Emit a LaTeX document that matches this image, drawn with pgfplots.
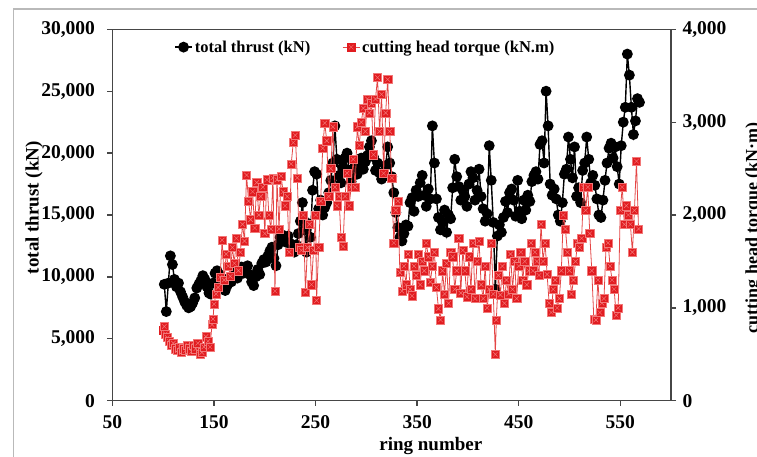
\documentclass[border=0pt]{standalone}
\usepackage{fontspec}
\setmainfont{Liberation Serif}
\usepackage{pgfplots}
\pgfplotsset{compat=1.18}
\definecolor{tq}{RGB}{225,28,32}
\definecolor{tqline}{RGB}{228,70,70}
\definecolor{tqx}{RGB}{242,120,120}
\definecolor{axgray}{RGB}{70,70,70}
\pgfdeclareplotmark{sqx}{%
  \pgfpathrectangle{\pgfpoint{-\pgfplotmarksize}{-\pgfplotmarksize}}{\pgfpoint{2\pgfplotmarksize}{2\pgfplotmarksize}}%
  \pgfusepathqfillstroke
  \pgfsetstrokecolor{tqx}\pgfsetlinewidth{0.45pt}%
  \pgfpathmoveto{\pgfpoint{-0.55\pgfplotmarksize}{-0.55\pgfplotmarksize}}%
  \pgfpathlineto{\pgfpoint{0.55\pgfplotmarksize}{0.55\pgfplotmarksize}}%
  \pgfpathmoveto{\pgfpoint{-0.55\pgfplotmarksize}{0.55\pgfplotmarksize}}%
  \pgfpathlineto{\pgfpoint{0.55\pgfplotmarksize}{-0.55\pgfplotmarksize}}%
  \pgfusepathqstroke
}
\pgfplotsset{
  mybase/.style={
    width=558.5pt, height=371.4pt, scale only axis,
    xmin=50, xmax=600, xtick={50,150,...,550},
    axis line style={axgray, line width=1.3pt},
    every tick/.style={axgray, line width=1.3pt},
    major tick length=5pt, tick align=outside,
    /pgf/number format/assume math mode=true,
    /pgf/number format/1000 sep={,},
    tick label style={font=\fontsize{19.5}{22}\selectfont\bfseries},
    label style={font=\fontsize{19}{22}\selectfont\bfseries},
    scaled y ticks=false,
  }
}
\begin{document}
\begin{tikzpicture}
\path[use as bounding box] (-112.5pt,-55.3pt) rectangle (644.5pt,400.7pt);
\draw[gray!55, line width=1.5pt] (-99pt,-60pt) -- (-99pt,391.7pt) -- (650pt,391.7pt);
\begin{axis}[mybase,
  ymin=0, ymax=30000, ytick={0,5000,...,30000},
  xtick pos=lower, ytick pos=left,
  xlabel={ring number}, ylabel={total thrust (kN)},
  xlabel style={at={(axis description cs:0.57,-0.09)}, anchor=north},
  ylabel style={at={(axis description cs:-0.162,0.52)}, anchor=north},
  yticklabel style={xshift=-9pt},
  xticklabel style={yshift=-6pt},
]
\addplot[black, line width=1.4pt, mark=*, mark size=4.7pt] coordinates {
(101,9400)(103,7200)(105,9500)(107,11700)(109,11000)(111,9800)(113,9200)(115,9500)(117,8800)(119,8400)
(121,8000)(123,7700)(125,7500)(127,7600)(129,7900)(131,8300)(133,9100)(135,9400)(137,9700)(139,10100)
(141,9800)(143,9200)(145,8700)(147,8600)(149,9500)(151,10300)(153,10500)(155,10200)(157,9600)(159,9300)
(161,8900)(163,9300)(165,9900)(167,9600)(169,10100)(171,10400)(173,9900)(175,10500)(177,10800)(179,10300)
(181,10600)(183,10900)(185,10200)(187,9600)(189,9300)(191,10000)(193,10600)(195,10200)(197,11100)(199,11400)
(201,11200)(203,11700)(205,12100)(207,12400)(209,11500)(211,10900)(213,12600)(215,13200)(217,13400)(219,13100)
(221,12800)(223,13300)(225,12700)(227,12500)(229,12000)(231,12600)(233,13500)(235,14500)(237,16000)(239,13800)
(241,12000)(243,14300)(245,13200)(247,17000)(249,18500)(251,18300)(253,15500)(255,16200)(257,15000)(259,15600)
(261,16000)(263,16800)(265,17800)(267,19200)(269,22200)(271,19500)(273,18200)(275,17600)(277,18900)(279,19600)
(281,20000)(283,18600)(285,17700)(287,18200)(289,19000)(291,18300)(293,18800)(295,19600)(297,18700)(299,19300)
(301,19800)(303,20500)(305,21000)(307,19700)(309,18600)(311,19200)(313,18400)(315,17900)(317,18100)(319,19000)
(321,20500)(323,19200)(325,18100)(327,16800)(329,15200)(331,14000)(333,13200)(335,12900)(337,13500)(339,14200)
(341,14100)(343,16000)(345,16400)(347,15300)(349,17000)(351,16500)(353,17600)(355,18200)(357,16600)(359,15700)
(361,17100)(363,16300)(365,22200)(367,19200)(369,16300)(371,14800)(373,13800)(375,14400)(377,15400)(379,13600)
(381,15000)(383,14700)(385,17200)(387,19500)(389,18100)(391,17300)(393,16200)(395,17000)(397,16500)(399,15700)
(401,17500)(403,18500)(405,18000)(407,16200)(409,17000)(411,18700)(413,16500)(415,15500)(417,14500)(419,15100)
(421,20600)(423,17800)(425,14400)(427,9000)(429,13300)(431,14200)(433,13600)(435,14800)(437,16100)(439,15200)
(441,16800)(443,17100)(445,16200)(447,14900)(449,17800)(451,15300)(453,14700)(455,16200)(457,15400)(459,16600)
(461,16100)(463,17700)(465,18200)(467,18500)(469,17900)(471,20700)(473,21000)(475,19200)(477,25000)(479,22200)
(481,17500)(483,16600)(485,17100)(487,16300)(489,15000)(491,14500)(493,16000)(495,18300)(497,18700)(499,21300)
(501,19500)(503,18000)(505,20500)(507,16500)(509,17200)(511,16000)(513,18600)(515,19200)(517,21300)(519,19500)
(521,17600)(523,18200)(525,17400)(527,16300)(529,15000)(531,14800)(533,16200)(535,17800)(537,19200)(539,20400)
(541,20800)(543,19600)(545,20500)(547,18900)(549,17500)(551,20600)(553,22500)(555,23700)(557,28000)(559,26300)
(561,23700)(563,21500)(565,22600)(567,24400)(569,24100)
};
\end{axis}
\begin{axis}[mybase,
  ymin=0, ymax=4000, ytick={0,1000,...,4000},
  axis y line*=right, axis x line=none,
  ylabel={cutting head torque (kN·m)},
  ylabel style={at={(axis description cs:1.127,0.466)}, anchor=north, font=\fontsize{18}{21}\selectfont\bfseries},
  yticklabel style={xshift=3pt},
  legend style={at={(axis description cs:0.105,0.952)}, anchor=west, draw=none, fill=none,
    font=\fontsize{16.5}{19}\selectfont\bfseries, legend columns=2,
    /tikz/every even column/.append style={column sep=30pt}},
]
\addlegendimage{black, line width=1.4pt, mark=*, mark size=4.7pt}
\addlegendentry{total thrust (kN)}
\addplot[tqline, line width=0.8pt, mark=sqx, mark size=4.1pt, mark options={fill=tq, draw=tq, line width=0.4pt}] coordinates {
(100,760)(101,800)(102,720)(104,680)(106,640)(108,600)(110,620)(112,560)(114,540)(116,580)
(118,520)(120,560)(122,540)(124,600)(126,560)(128,530)(130,600)(132,560)(134,620)(136,500)
(138,520)(140,580)(142,690)(144,640)(146,580)(148,820)(149,880)(150,1040)(152,1150)(154,1220)
(156,1330)(158,1730)(160,1300)(162,1580)(164,1450)(166,1340)(168,1650)(170,1480)(172,1750)(174,1400)
(176,1600)(178,1900)(180,1720)(182,2430)(184,2150)(186,1950)(188,2250)(190,1860)(192,2350)(194,2000)
(196,2200)(198,2300)(200,1800)(202,2380)(204,2000)(206,1850)(208,2400)(210,1180)(212,2380)(214,1850)
(216,2420)(218,2250)(220,2100)(222,2200)(224,1600)(226,2550)(228,2780)(230,2860)(232,2400)(234,1650)
(236,1620)(238,2000)(240,1170)(242,1650)(244,1900)(246,1250)(248,1620)(250,2000)(251,1080)(253,1650)
(255,2150)(257,2720)(259,2990)(261,2800)(263,2200)(265,2500)(267,2950)(269,2300)(271,2100)(273,2200)
(275,1760)(277,1660)(279,2200)(281,2450)(283,2100)(285,2300)(287,2600)(289,2300)(291,2950)(293,2750)
(295,3000)(297,3150)(299,2900)(301,3250)(303,3100)(305,3200)(307,2650)(309,3250)(311,3480)(313,2900)
(315,3300)(317,2450)(319,3100)(321,3460)(323,2900)(325,2400)(327,1700)(329,2050)(331,2150)(333,1380)
(335,1180)(337,1450)(339,1250)(341,1580)(343,1200)(345,1130)(347,1450)(349,1350)(351,1580)(353,1250)
(355,1500)(357,1400)(359,1700)(361,1550)(363,1280)(365,1450)(367,1600)(369,1220)(371,990)(373,870)
(375,1400)(377,1150)(379,1480)(381,1050)(383,1600)(385,1550)(387,1200)(389,1400)(391,1750)(393,1160)
(395,1620)(397,1400)(399,1120)(401,1550)(403,1200)(405,1700)(407,1100)(409,1500)(411,1720)(413,1250)
(415,1100)(417,1450)(419,1000)(421,1200)(423,1700)(425,1150)(427,500)(428,870)(430,1350)(432,1140)
(434,1450)(436,1050)(438,1300)(440,1150)(442,1580)(444,1200)(446,1500)(448,1100)(450,1450)(452,1600)
(454,1300)(456,1500)(458,1250)(460,1400)(462,1700)(464,1400)(466,1600)(468,1500)(470,1350)(472,1900)
(474,1500)(476,1700)(478,1360)(480,1050)(482,950)(484,1200)(486,1300)(488,1000)(490,1100)(492,1400)
(494,2000)(496,1850)(498,1600)(500,1400)(502,1150)(504,1300)(506,1500)(508,1700)(510,1650)(512,1750)
(514,2300)(516,2050)(518,2300)(520,1800)(522,1400)(524,880)(526,870)(528,1300)(530,950)(532,1050)
(534,1100)(536,1650)(538,1700)(540,1450)(542,1300)(544,1200)(546,920)(548,1000)(550,2050)(552,2300)
(554,1900)(556,2100)(558,2000)(560,1900)(562,1600)(564,2050)(566,2580)(568,1850)
};
\addlegendentry{cutting head torque (kN.m)}
\end{axis}
\end{tikzpicture}
\end{document}
